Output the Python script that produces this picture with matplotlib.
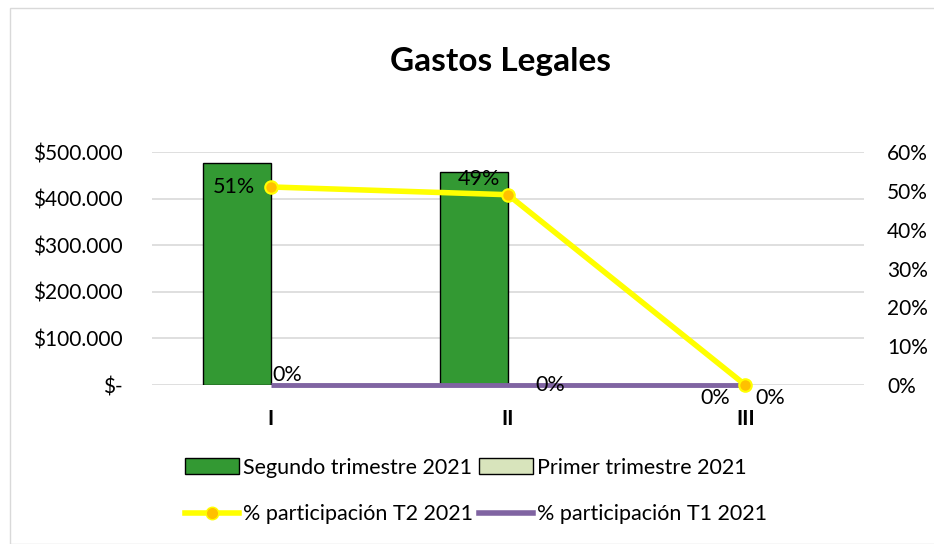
import matplotlib.pyplot as plt
import numpy as np
from matplotlib.patches import Rectangle
from matplotlib.lines import Line2D
from matplotlib.patches import Patch

plt.rcParams['font.family'] = ['Lato', 'DejaVu Sans']

categories = ["I", "II", "III"]
segundo_t2 = [476000, 457000, 0]
primer_t1 = [0, 0, 0]
part_t2 = [0.51, 0.49, 0.0]
part_t1 = [0.0, 0.0, 0.0]
left_ticks = [0, 100000, 200000, 300000, 400000, 500000]
left_labels = ["$-", "$100.000", "$200.000", "$300.000", "$400.000", "$500.000"]
right_ticks = [0, 0.1, 0.2, 0.3, 0.4, 0.5, 0.6]
right_labels = ["0%", "10%", "20%", "30%", "40%", "50%", "60%"]

green = "#339933"
light_green = "#d8e4bc"
yellow = "#ffff00"
orange = "#ffc000"
purple = "#8064a2"

fig = plt.figure(figsize=(9.34, 5.44), dpi=100)
fig.patches.append(Rectangle((10 / 934, 0), 1, 1 - 8 / 544, transform=fig.transFigure,
                             fill=False, edgecolor="#d9d9d9", linewidth=1))

ax = fig.add_axes([152 / 934, 1 - 385 / 544, (864 - 152) / 934, (385 - 152) / 544])
x = np.arange(len(categories))
w = 0.287
# zero-height bars get no outline, as in the original
ax.bar(x - w / 2, segundo_t2, w, color=green, edgecolor="black",
       linewidth=[1 if v else 0 for v in segundo_t2], zorder=2)
ax.bar(x + w / 2, primer_t1, w, color=light_green, edgecolor="black",
       linewidth=[1 if v else 0 for v in primer_t1], zorder=2)
ax.set_xlim(-0.5, 2.5)
ax.set_ylim(0, 500000)
ax.set_yticks(left_ticks)
ax.set_yticklabels(left_labels, fontsize=15)
ax.set_xticks(x)
ax.set_xticklabels(categories, fontsize=15, fontweight="bold")
ax.tick_params(axis="x", length=0, pad=17)
ax.tick_params(axis="y", length=0, pad=21)
ax.grid(axis="y", color="#d9d9d9", linewidth=1.2, zorder=0)
ax.set_axisbelow(True)
for s in ax.spines.values():
    s.set_visible(False)

ax2 = ax.twinx()
ax2.plot(x, part_t1, color=purple, linewidth=3.5, solid_capstyle="butt", zorder=3, clip_on=False)
ax2.plot(x, part_t2, color=yellow, linewidth=4, marker="o", markersize=9,
         markerfacecolor=orange, markeredgecolor=yellow, markeredgewidth=1.5, zorder=4,
         clip_on=False)
ax2.set_ylim(0, 0.6)
ax2.set_yticks(right_ticks)
ax2.set_yticklabels(right_labels, fontsize=15)
ax2.tick_params(length=0, pad=16.5)
for s in ax2.spines.values():
    s.set_visible(False)

t2_offsets = [(-11, 0, "right", "center"), (-6, 11, "right", "center"), (-11, -9, "right", "center")]
for xi, v, (dx, dy, ha, va) in zip(x, part_t2, t2_offsets):
    ax2.annotate(f"{v:.0%}", (xi, v), xytext=(dx, dy), textcoords="offset points",
                 ha=ha, va=va, fontsize=15.5, zorder=5)
t1_offsets = [(1, 7, "left", "center"), (20, 0, "left", "center"), (7, -9, "left", "center")]
for xi, v, (dx, dy, ha, va) in zip(x, part_t1, t1_offsets):
    ax2.annotate(f"{v:.0%}", (xi, v), xytext=(dx, dy), textcoords="offset points",
                 ha=ha, va=va, fontsize=15.5, zorder=5)

fig.text(500 / 934, 1 - 62 / 544, "Gastos Legales", ha="center", va="center",
         fontsize=24, fontweight="bold")

handles = [
    Patch(facecolor=green, edgecolor="black", label="Segundo trimestre 2021"),
    Line2D([], [], color=yellow, linewidth=4, marker="o", markersize=9,
           markerfacecolor=orange, markeredgecolor=yellow, label="% participación T2 2021"),
    Patch(facecolor=light_green, edgecolor="black", label="Primer trimestre 2021"),
    Line2D([], [], color=purple, linewidth=4, label="% participación T1 2021"),
]
fig.legend(handles=handles, ncol=2, loc="center", bbox_to_anchor=(476 / 934, 1 - 491 / 544),
           frameon=False, fontsize=15.5, handlelength=2.5, handleheight=0.7, handletextpad=0.2,
           columnspacing=0.25, labelspacing=1.25)

fig.savefig("out.png", dpi=100)
